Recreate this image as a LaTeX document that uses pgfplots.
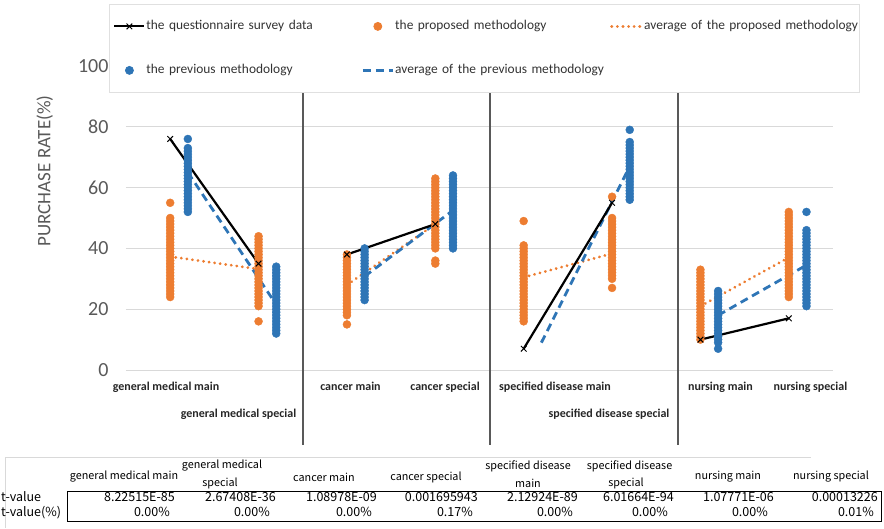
\documentclass[border=0pt]{standalone}
\usepackage{fontspec}
\setmainfont{Carlito}
\newfontfamily\jpfont{Noto Sans CJK JP}
\usepackage{pgfplots}
\pgfplotsset{compat=1.18}
\definecolor{xorange}{HTML}{ED7D31}
\definecolor{xblue}{HTML}{2E75B6}
\definecolor{tickgray}{HTML}{595959}
\definecolor{gridgray}{HTML}{D9D9D9}
\definecolor{legtext}{HTML}{333333}
\begin{document}
\begin{tikzpicture}[x=1pt,y=1pt]
\path[use as bounding box] (0,0) rectangle (884,-528);
\begin{axis}[
  at={(126pt,-370pt)}, anchor=south west,
  scale only axis, width=707pt, height=304pt,
  xmin=-0.5, xmax=7.5, ymin=0, ymax=100,
  axis line style={draw=none},
  ytick={0,20,40,60,80,100},
  ymajorgrids, grid style={gridgray, line width=1pt},
  major tick length=0pt,
  /pgf/number format/assume math mode=true,
  yticklabel style={font=\fontsize{20}{20}\selectfont, text=tickgray, xshift=-14pt},
  ylabel={PURCHASE RATE(\%)},
  ylabel style={at={(axis description cs:-0.115,0.655)}, anchor=center, font=\fontsize{19}{19}\selectfont, text=tickgray},
  xtick={-0.047,2.04,3.11,4.354,6.227,7.245},
  xticklabels={general medical main, cancer main, cancer special, specified disease main, nursing main, nursing special},
  xticklabel style={font=\bfseries\fontsize{12}{12}\selectfont, text=black!85, yshift=-9pt},
  extra x ticks={0.773,4.965},
  extra x tick labels={general medical special, specified disease special},
  extra x tick style={grid=none, xticklabel style={yshift=-27pt}},
  clip=false,
  legend columns=3,
  legend cell align=left,
  legend image code/.code={\draw[mark repeat=2,mark phase=2,#1] plot coordinates {(0pt,0pt) (15pt,0pt) (30pt,0pt)};},
  legend style={
    at={(axis description cs:-0.024,1.204)}, anchor=north west,
    draw=black!12, fill=white, line width=0.8pt,
    inner xsep=4pt, inner ysep=15.5pt,
    font=\fontsize{13.4}{13.4}\selectfont,
    row sep=31pt,
    /tikz/every even column/.append style={column sep=4pt},
    nodes={text width=210pt, align=left, inner xsep=1pt, inner ysep=0pt, text height=10pt, text depth=3pt, text=legtext},
  },
]
\addlegendimage{black, line width=2pt, mark=x, mark size=4pt, mark options={line width=1pt, solid}}
\addlegendentry{\mbox{the questionnaire survey data}}
\addlegendimage{only marks, mark=*, mark size=4pt, color=xorange}
\addlegendentry{\mbox{the proposed methodology}}
\addlegendimage{xorange, line width=3pt, dash pattern=on 0.1pt off 5.5pt, line cap=round}
\addlegendentry{\mbox{average of the proposed methodology}}
\addlegendimage{only marks, mark=*, mark size=4pt, color=xblue}
\addlegendentry{\mbox{the previous methodology}}
\addlegendimage{xblue, line width=2.8pt, dash pattern=on 8pt off 5pt}
\addlegendentry{\mbox{average of the previous methodology}}

% proposed methodology (orange dots)
\addplot[only marks, mark=*, mark size=4pt, color=xorange, forget plot] coordinates {
(0,55) (0,50) (0,49) (0,48) (0,47) (0,46) (0,45) (0,44) (0,43) (0,42) (0,41) (0,40) (0,39) (0,38) (0,37) (0,36) (0,35) (0,34) (0,33) (0,32) (0,31) (0,30) (0,29) (0,28) (0,27) (0,26) (0,25) (0,24)
(1,44) (1,43) (1,42) (1,41) (1,40) (1,39) (1,38) (1,37) (1,36) (1,35) (1,34) (1,33) (1,32) (1,31) (1,30) (1,29) (1,28) (1,27) (1,26) (1,25) (1,24) (1,23) (1,22) (1,21) (1,16)
(2,38) (2,37) (2,36) (2,35) (2,34) (2,33) (2,32) (2,31) (2,30) (2,29) (2,28) (2,27) (2,26) (2,25) (2,24) (2,23) (2,22) (2,21) (2,20) (2,19) (2,18) (2,15)
(3,63) (3,62) (3,61) (3,60) (3,59) (3,58) (3,57) (3,56) (3,55) (3,54) (3,53) (3,52) (3,51) (3,50) (3,49) (3,48) (3,47) (3,46) (3,45) (3,44) (3,43) (3,42) (3,41) (3,40) (3,36) (3,35)
(4,49) (4,41) (4,40) (4,39) (4,38) (4,37) (4,36) (4,35) (4,34) (4,33) (4,32) (4,31) (4,30) (4,29) (4,28) (4,27) (4,26) (4,25) (4,24) (4,23) (4,22) (4,21) (4,20) (4,19) (4,18) (4,17) (4,16)
(5,57) (5,50) (5,49) (5,48) (5,47) (5,46) (5,45) (5,44) (5,43) (5,42) (5,41) (5,40) (5,39) (5,38) (5,37) (5,36) (5,35) (5,34) (5,33) (5,32) (5,31) (5,30) (5,27)
(6,33) (6,32) (6,31) (6,30) (6,29) (6,28) (6,27) (6,26) (6,25) (6,24) (6,23) (6,22) (6,21) (6,20) (6,19) (6,18) (6,17) (6,16) (6,15) (6,14) (6,13) (6,12) (6,11) (6,10)
(7,52) (7,51) (7,50) (7,49) (7,48) (7,47) (7,46) (7,45) (7,44) (7,43) (7,42) (7,41) (7,40) (7,39) (7,38) (7,37) (7,36) (7,35) (7,34) (7,33) (7,32) (7,31) (7,30) (7,29) (7,28) (7,27) (7,26) (7,25) (7,24)
};
% previous methodology (blue dots)
\addplot[only marks, mark=*, mark size=4pt, color=xblue, forget plot] coordinates {
(0.2,76) (0.2,73) (0.2,72) (0.2,71) (0.2,70) (0.2,69) (0.2,68) (0.2,67) (0.2,66) (0.2,65) (0.2,64) (0.2,63) (0.2,62) (0.2,61) (0.2,60) (0.2,59) (0.2,58) (0.2,57) (0.2,56) (0.2,55) (0.2,54) (0.2,53) (0.2,52)
(1.2,34) (1.2,33) (1.2,32) (1.2,31) (1.2,30) (1.2,29) (1.2,28) (1.2,27) (1.2,26) (1.2,25) (1.2,24) (1.2,23) (1.2,22) (1.2,21) (1.2,20) (1.2,19) (1.2,18) (1.2,17) (1.2,16) (1.2,15) (1.2,14) (1.2,13) (1.2,12)
(2.2,40) (2.2,39) (2.2,38) (2.2,37) (2.2,36) (2.2,35) (2.2,34) (2.2,33) (2.2,32) (2.2,31) (2.2,30) (2.2,29) (2.2,28) (2.2,27) (2.2,26) (2.2,25) (2.2,24) (2.2,23)
(3.2,64) (3.2,63) (3.2,62) (3.2,61) (3.2,60) (3.2,59) (3.2,58) (3.2,57) (3.2,56) (3.2,55) (3.2,54) (3.2,53) (3.2,52) (3.2,51) (3.2,50) (3.2,49) (3.2,48) (3.2,47) (3.2,46) (3.2,45) (3.2,44) (3.2,43) (3.2,42) (3.2,41) (3.2,40)
(5.2,79) (5.2,75) (5.2,74) (5.2,73) (5.2,72) (5.2,71) (5.2,70) (5.2,69) (5.2,68) (5.2,67) (5.2,66) (5.2,65) (5.2,64) (5.2,63) (5.2,62) (5.2,61) (5.2,60) (5.2,59) (5.2,58) (5.2,57) (5.2,56)
(6.2,26) (6.2,25) (6.2,24) (6.2,23) (6.2,22) (6.2,21) (6.2,20) (6.2,19) (6.2,18) (6.2,17) (6.2,16) (6.2,15) (6.2,14) (6.2,13) (6.2,12) (6.2,11) (6.2,10) (6.2,9) (6.2,7)
(7.2,52) (7.2,46) (7.2,45) (7.2,44) (7.2,43) (7.2,42) (7.2,41) (7.2,40) (7.2,39) (7.2,38) (7.2,37) (7.2,36) (7.2,35) (7.2,34) (7.2,33) (7.2,32) (7.2,31) (7.2,30) (7.2,29) (7.2,28) (7.2,27) (7.2,26) (7.2,25) (7.2,24) (7.2,23) (7.2,22) (7.2,21)
};
% average of the proposed methodology
\addplot[xorange, line width=3pt, dash pattern=on 0.1pt off 5.5pt, line cap=round, forget plot] coordinates {(0,37.3) (1,33.2)};
\addplot[xorange, line width=3pt, dash pattern=on 0.1pt off 5.5pt, line cap=round, forget plot] coordinates {(2,28) (3,48)};
\addplot[xorange, line width=3pt, dash pattern=on 0.1pt off 5.5pt, line cap=round, forget plot] coordinates {(4,30.5) (5,38.3)};
\addplot[xorange, line width=3pt, dash pattern=on 0.1pt off 5.5pt, line cap=round, forget plot] coordinates {(6,21) (7,37)};
% average of the previous methodology
\addplot[xblue, line width=2.8pt, dash pattern=on 8pt off 5pt, forget plot] coordinates {(0.2,65) (1.2,21.5)};
\addplot[xblue, line width=2.8pt, dash pattern=on 8pt off 5pt, forget plot] coordinates {(2.2,30.8) (3.2,52.5)};
\addplot[xblue, line width=2.8pt, dash pattern=on 8pt off 5pt, forget plot] coordinates {(4.2,9) (5.2,67)};
\addplot[xblue, line width=2.8pt, dash pattern=on 8pt off 5pt, forget plot] coordinates {(6.2,18) (7.2,34.5)};
% questionnaire survey data
\addplot[black, line width=2.2pt, mark=x, mark size=4pt, mark options={line width=1pt, solid}, forget plot] coordinates {(0,76) (1,35)};
\addplot[black, line width=2.2pt, mark=x, mark size=4pt, mark options={line width=1pt, solid}, forget plot] coordinates {(2,38) (3,48)};
\addplot[black, line width=2.2pt, mark=x, mark size=4pt, mark options={line width=1pt, solid}, forget plot] coordinates {(4,7) (5,55)};
\addplot[black, line width=2.2pt, mark=x, mark size=4pt, mark options={line width=1pt, solid}, forget plot] coordinates {(6,10) (7,17)};
% separators
\draw[tickgray, line width=1.3pt] (axis cs:1.503,91) -- (axis cs:1.503,-24.7);
\draw[tickgray, line width=1.3pt] (axis cs:3.619,91) -- (axis cs:3.619,-24.7);
\draw[tickgray, line width=1.3pt] (axis cs:5.746,91) -- (axis cs:5.746,-24.7);
\end{axis}
% t-value table
\begin{scope}[every node/.style={inner sep=0pt, font=\jpfont\fontsize{12.5}{14}\selectfont}]
\draw[black!15, line width=1pt] (5,-457) -- (811,-457);
\draw[black!15, line width=1pt] (5,-457) -- (5,-528);
\draw[black, line width=1pt] (67,-491) rectangle (881,-521);
\begin{scope}[every node/.style={inner sep=0pt, font=\jpfont\fontsize{10.8}{13}\selectfont}]
\node at (124,-477) {general medical main};
\node at (222,-466) {general medical};
\node at (220,-483) {special};
\node at (324,-477) {cancer main};
\node at (426,-477) {cancer special};
\node at (528,-466) {specified disease};
\node at (528,-483) {main};
\node at (629.5,-466) {specified disease};
\node at (626,-483) {special};
\node at (728,-477) {nursing main};
\node at (831,-477) {nursing special};
\end{scope}
\node[anchor=mid west] at (1,-499) {t-value};
\node[anchor=mid west] at (1,-514) {t-value(\%)};
\node[anchor=mid east] at (175,-499) {8.22515E-85};
\node[anchor=mid east] at (276,-499) {2.67408E-36};
\node[anchor=mid east] at (377,-499) {1.08978E-09};
\node[anchor=mid east] at (478,-499) {0.001695943};
\node[anchor=mid east] at (578,-499) {2.12924E-89};
\node[anchor=mid east] at (674,-499) {6.01664E-94};
\node[anchor=mid east] at (774,-499) {1.07771E-06};
\node[anchor=mid east] at (878,-499) {0.00013226};
\node[anchor=mid east] at (170,-514) {0.00\%};
\node[anchor=mid east] at (270,-514) {0.00\%};
\node[anchor=mid east] at (372,-514) {0.00\%};
\node[anchor=mid east] at (473,-514) {0.17\%};
\node[anchor=mid east] at (573,-514) {0.00\%};
\node[anchor=mid east] at (668,-514) {0.00\%};
\node[anchor=mid east] at (768,-514) {0.00\%};
\node[anchor=mid east] at (874,-514) {0.01\%};
\end{scope}
\end{tikzpicture}
\end{document}
